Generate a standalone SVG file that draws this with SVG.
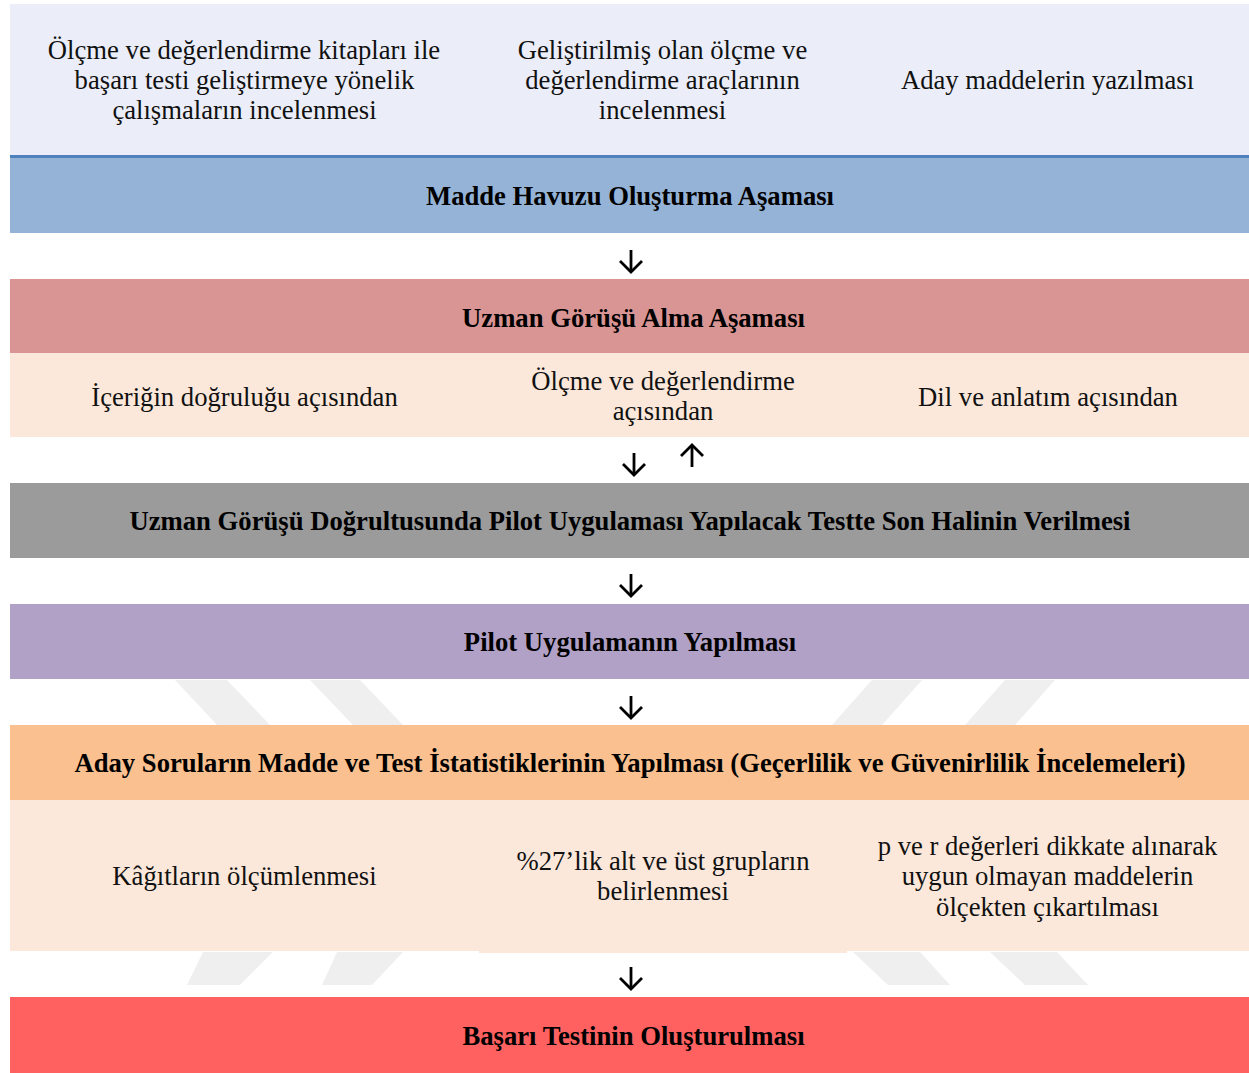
<svg xmlns="http://www.w3.org/2000/svg" width="1249" height="1073" viewBox="0 0 1249 1073">
<defs>
<style>
.t{font-family:'Liberation Serif','Times New Roman',serif;font-size:26.67px;fill:#111;text-anchor:middle}
.b{font-family:'Liberation Serif','Times New Roman',serif;font-size:26.67px;font-weight:bold;fill:#000;text-anchor:middle}
.wm{fill:#efefef}
.ar{stroke:#000;stroke-width:2.8;fill:none}
</style>
<marker id="v" markerUnits="userSpaceOnUse" markerWidth="26" markerHeight="26" refX="12" refY="13" viewBox="0 0 26 26" orient="auto" overflow="visible">
<path d="M1,2 L12,13 L1,24" fill="none" stroke="#000" stroke-width="2.8"/>
</marker>
</defs>
<rect width="1249" height="1073" fill="#fff"/>
<g id="watermark">
<polygon class="wm" points="175,680 227,680 270,725 217,725"/>
<polygon class="wm" points="310,680 360,680 403,725 353,725"/>
<polygon class="wm" points="872,680 922,680 882,725 832,725"/>
<polygon class="wm" points="1005,680 1055,680 1015,725 965,725"/>
<polygon class="wm" points="203,952 273,952 240,985 187,985"/>
<polygon class="wm" points="337,952 403,952 372,985 322,985"/>
<polygon class="wm" points="853,952 920,952 950,985 888,985"/>
<polygon class="wm" points="990,952 1057,952 1088,985 1025,985"/>
</g>
<g id="n1-sources">
<rect x="10" y="4" width="1239" height="152" fill="#ebeef8"/>
<text class="t" x="244" y="59">Ölçme ve değerlendirme kitapları ile</text>
<text class="t" x="244.5" y="89">başarı testi geliştirmeye yönelik</text>
<text class="t" x="244.5" y="119">çalışmaların incelenmesi</text>
<text class="t" x="662.5" y="59">Geliştirilmiş olan ölçme ve</text>
<text class="t" x="662.5" y="89">değerlendirme araçlarının</text>
<text class="t" x="662.5" y="119">incelenmesi</text>
<text class="t" x="1047.5" y="89">Aday maddelerin yazılması</text>
</g>
<g id="n2-madde-havuzu">
<rect x="10" y="155" width="1239" height="3" fill="#4f81bd"/>
<rect x="10" y="158" width="1239" height="75" fill="#95b3d7"/>
<text class="b" x="630" y="205">Madde Havuzu Oluşturma Aşaması</text>
</g>
<g id="n3-uzman-gorusu">
<rect x="10" y="279" width="1239" height="74" fill="#d99594"/>
<text class="b" x="633.5" y="327">Uzman Görüşü Alma Aşaması</text>
</g>
<g id="n4-acilar">
<rect x="10" y="353" width="1239" height="84" fill="#fce8da"/>
<text class="t" x="244.5" y="406">İçeriğin doğruluğu açısından</text>
<text class="t" x="663" y="390">Ölçme ve değerlendirme</text>
<text class="t" x="663" y="420">açısından</text>
<text class="t" x="1048" y="406">Dil ve anlatım açısından</text>
</g>
<g id="n5-son-hal">
<rect x="10" y="483" width="1239" height="75" fill="#9b9b9b"/>
<text class="b" x="630" y="530">Uzman Görüşü Doğrultusunda Pilot Uygulaması Yapılacak Testte Son Halinin Verilmesi</text>
</g>
<g id="n6-pilot">
<rect x="10" y="604" width="1239" height="75" fill="#b2a1c7"/>
<text class="b" x="630" y="651">Pilot Uygulamanın Yapılması</text>
</g>
<g id="n7-istatistik">
<rect x="10" y="725" width="1239" height="75" fill="#fac08f"/>
<text class="b" x="630" y="772">Aday Soruların Madde ve Test İstatistiklerinin Yapılması (Geçerlilik ve Güvenirlilik İncelemeleri)</text>
</g>
<g id="n8-analiz">
<rect x="10" y="800" width="1239" height="151" fill="#fce8da"/>
<rect x="479" y="800" width="368" height="153" fill="#fce8db"/>
<text class="t" x="244.5" y="885">Kâğıtların ölçümlenmesi</text>
<text class="t" x="663" y="870">%27’lik alt ve üst grupların</text>
<text class="t" x="663" y="900">belirlenmesi</text>
<text class="t" x="1047.5" y="855">p ve r değerleri dikkate alınarak</text>
<text class="t" x="1047.5" y="885">uygun olmayan maddelerin</text>
<text class="t" x="1047.5" y="916">ölçekten çıkartılması</text>
</g>
<g id="n9-basari">
<rect x="10" y="997" width="1239" height="76" fill="#ff6161"/>
<text class="b" x="633.5" y="1045">Başarı Testinin Oluşturulması</text>
</g>
<g id="connectors">
<line class="ar" x1="631" y1="250" x2="631" y2="272" marker-end="url(#v)"/>
<line class="ar" x1="634" y1="453" x2="634" y2="475" marker-end="url(#v)"/>
<line class="ar" x1="692" y1="467" x2="692" y2="445" marker-end="url(#v)"/>
<line class="ar" x1="631" y1="574" x2="631" y2="596" marker-end="url(#v)"/>
<line class="ar" x1="631" y1="696" x2="631" y2="718" marker-end="url(#v)"/>
<line class="ar" x1="631" y1="967" x2="631" y2="989" marker-end="url(#v)"/>
</g>
</svg>
